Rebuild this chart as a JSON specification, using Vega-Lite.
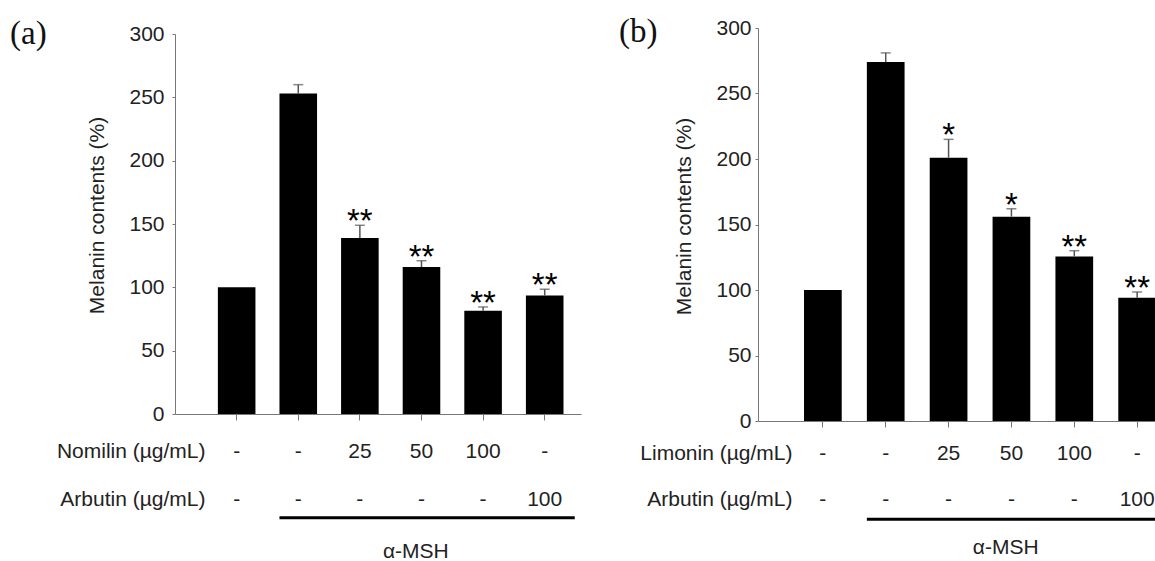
{
  "$schema": "https://vega.github.io/schema/vega-lite/v6.json",
  "padding": {"left": 10, "top": 16, "right": 0, "bottom": 0},
  "spacing": 38,
  "config": {
    "view": {"stroke": null},
    "font": "Liberation Sans",
    "axis": {"grid": false, "domainColor": "#777", "tickColor": "#777", "labelColor": "#222", "titleColor": "#222", "labelFontSize": 21, "titleFontSize": 21, "titleFontWeight": "normal"}
  },
  "datasets": {
    "a": [
      {"label": "-|-", "mean": 100, "upper": 100, "sig": ""},
      {"label": "-|-\u200b", "mean": 253, "upper": 260, "sig": ""},
      {"label": "25|-", "mean": 139, "upper": 149, "sig": "**"},
      {"label": "50|-", "mean": 116, "upper": 121, "sig": "**"},
      {"label": "100|-", "mean": 81.5, "upper": 84.5, "sig": "**"},
      {"label": "-|100", "mean": 93.5, "upper": 98.5, "sig": "**"}
    ],
    "b": [
      {"label": "-|-", "mean": 100, "upper": 100, "sig": ""},
      {"label": "-|-\u200b", "mean": 274, "upper": 281, "sig": ""},
      {"label": "25|-", "mean": 201, "upper": 215, "sig": "*"},
      {"label": "50|-", "mean": 156, "upper": 162, "sig": "*"},
      {"label": "100|-", "mean": 125.5, "upper": 130, "sig": "**"},
      {"label": "-|100", "mean": 94, "upper": 98.5, "sig": "**"}
    ]
  },
  "hconcat": [
    {
      "width": 406,
      "height": 386,
      "title": {"text": "(a)", "anchor": "start", "frame": "group", "font": "Liberation Serif", "fontSize": 33, "fontWeight": "normal", "color": "#111", "dx": -165, "offset": -28},
      "data": {"name": "a"},
      "encoding": {
        "x": {"field": "label", "type": "nominal", "sort": null,
          "scale": {"paddingInner": 0.39, "paddingOuter": 0.49, "align": 0.71},
          "axis": {"labelExpr": "split(datum.label, '|')", "labelAngle": 0, "labelLineHeight": 48, "labelPadding": 20, "tickSize": 6, "labelBaseline": "top",
            "title": ["Nomilin (µg/mL)", "Arbutin (µg/mL)"], "titleAngle": 0, "titleAlign": "right", "titleBaseline": "top", "titleX": 30, "titleY": 26, "titleLineHeight": 48}}
      },
      "layer": [
        {"mark": {"type": "bar", "color": "#000"},
         "encoding": {"y": {"field": "mean", "type": "quantitative", "scale": {"domain": [0, 300], "range": [386, 6]},
           "axis": {"values": [0, 50, 100, 150, 200, 250, 300], "tickSize": 3, "labelPadding": 8, "title": "Melanin contents (%)", "titlePadding": 21, "titleY": 187}}}},
        {"transform": [{"filter": "datum.upper > datum.mean"}],
         "mark": {"type": "rule", "color": "#555", "strokeWidth": 1.5},
         "encoding": {"y": {"field": "mean", "type": "quantitative"}, "y2": {"field": "upper"}}},
        {"transform": [{"filter": "datum.upper > datum.mean"}],
         "mark": {"type": "tick", "color": "#555", "thickness": 1.5, "size": 10},
         "encoding": {"y": {"field": "upper", "type": "quantitative"}}},
        {"mark": {"type": "text", "fontSize": 33, "baseline": "alphabetic", "dy": 7, "color": "#000"},
         "encoding": {"y": {"field": "upper", "type": "quantitative"}, "text": {"field": "sig"}}},
        {"data": {"values": [{"name": "α-MSH"}]},
         "mark": {"type": "rule", "strokeWidth": 3, "color": "#000"},
         "encoding": {"x": {"datum": "-|-\u200b", "bandPosition": 0}, "x2": {"datum": "-|100", "bandPosition": 1.3}, "y": {"datum": -82}}},
        {"data": {"values": [{"name": "α-MSH"}]},
         "mark": {"type": "text", "fontSize": 21, "baseline": "middle", "color": "#222"},
         "encoding": {"x": {"datum": "50|-", "bandPosition": 0.35}, "y": {"datum": -109}, "text": {"field": "name"}}}
      ]
    },
    {
      "width": 398,
      "height": 393,
      "title": {"text": "(b)", "anchor": "start", "frame": "group", "font": "Liberation Serif", "fontSize": 33, "fontWeight": "normal", "color": "#111", "dx": -139, "offset": -32},
      "data": {"name": "b"},
      "encoding": {
        "x": {"field": "label", "type": "nominal", "sort": null,
          "scale": {"paddingInner": 0.4, "paddingOuter": 0.366, "align": 1},
          "axis": {"labelExpr": "split(datum.label, '|')", "labelAngle": 0, "labelLineHeight": 46, "labelPadding": 15, "tickSize": 6, "labelBaseline": "top",
            "title": ["Limonin (µg/mL)", "Arbutin (µg/mL)"], "titleAngle": 0, "titleAlign": "right", "titleBaseline": "top", "titleX": 34, "titleY": 21, "titleLineHeight": 46}}
      },
      "layer": [
        {"mark": {"type": "bar", "color": "#000"},
         "encoding": {"y": {"field": "mean", "type": "quantitative", "scale": {"domain": [0, 300]},
           "axis": {"values": [0, 50, 100, 150, 200, 250, 300], "tickSize": 3, "labelPadding": 4, "title": "Melanin contents (%)", "titlePadding": 21, "titleY": 188}}}},
        {"transform": [{"filter": "datum.upper > datum.mean"}],
         "mark": {"type": "rule", "color": "#555", "strokeWidth": 1.5},
         "encoding": {"y": {"field": "mean", "type": "quantitative"}, "y2": {"field": "upper"}}},
        {"transform": [{"filter": "datum.upper > datum.mean"}],
         "mark": {"type": "tick", "color": "#555", "thickness": 1.5, "size": 10},
         "encoding": {"y": {"field": "upper", "type": "quantitative"}}},
        {"mark": {"type": "text", "fontSize": 33, "baseline": "alphabetic", "dy": 7, "color": "#000"},
         "encoding": {"y": {"field": "upper", "type": "quantitative"}, "text": {"field": "sig"}}},
        {"data": {"values": [{"name": "α-MSH"}]},
         "mark": {"type": "rule", "strokeWidth": 3, "color": "#000"},
         "encoding": {"x": {"datum": "-|-\u200b", "bandPosition": 0}, "x2": {"datum": "-|100", "bandPosition": 1.3}, "y": {"datum": -75}}},
        {"data": {"values": [{"name": "α-MSH"}]},
         "mark": {"type": "text", "fontSize": 21, "baseline": "middle", "color": "#222"},
         "encoding": {"x": {"datum": "50|-", "bandPosition": 0.35}, "y": {"datum": -97}, "text": {"field": "name"}}}
      ]
    }
  ]
}
